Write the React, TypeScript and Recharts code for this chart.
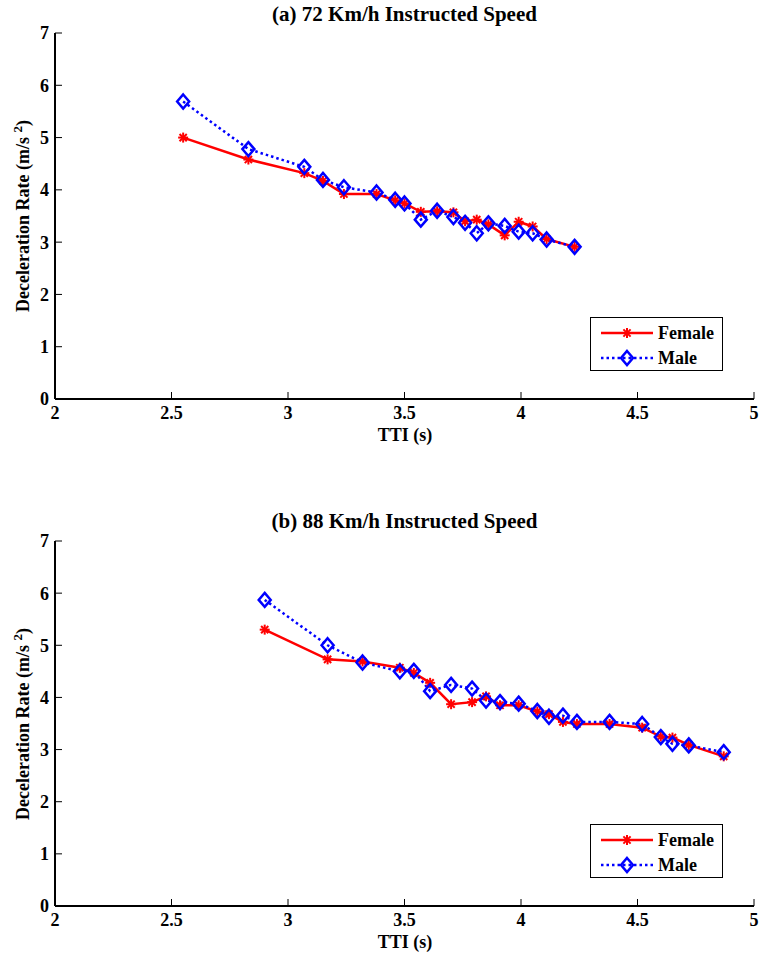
import React from "react";
import { LineChart, Line, XAxis, YAxis } from "recharts";

// (a) 72 Km/h
const ttiA = [2.55, 2.83, 3.07, 3.15, 3.24, 3.38, 3.46, 3.5, 3.57, 3.64, 3.71, 3.76, 3.81, 3.86, 3.93, 3.99, 4.05, 4.11, 4.23];
const femaleA = [5.0, 4.58, 4.32, 4.17, 3.92, 3.92, 3.8, 3.74, 3.58, 3.59, 3.57, 3.4, 3.43, 3.34, 3.13, 3.39, 3.3, 3.06, 2.91];
const maleA = [5.69, 4.78, 4.44, 4.19, 4.05, 3.95, 3.81, 3.74, 3.43, 3.6, 3.48, 3.37, 3.17, 3.36, 3.31, 3.2, 3.17, 3.05, 2.91];

// (b) 88 Km/h
const ttiB = [2.9, 3.17, 3.32, 3.48, 3.54, 3.61, 3.7, 3.79, 3.85, 3.91, 3.99, 4.07, 4.12, 4.18, 4.24, 4.38, 4.52, 4.6, 4.65, 4.72, 4.87];
const femaleB = [5.3, 4.73, 4.69, 4.57, 4.47, 4.28, 3.87, 3.91, 4.02, 3.85, 3.85, 3.73, 3.68, 3.53, 3.49, 3.49, 3.42, 3.25, 3.23, 3.09, 2.87];
const maleB = [5.87, 5.0, 4.67, 4.5, 4.51, 4.12, 4.24, 4.17, 3.94, 3.91, 3.88, 3.74, 3.63, 3.65, 3.53, 3.53, 3.49, 3.24, 3.11, 3.08, 2.95];

const xTicks = [2, 2.5, 3, 3.5, 4, 4.5, 5];
const yTicks = [0, 1, 2, 3, 4, 5, 6, 7];

const RED = "#ff0000";
const BLUE = "#0000ff";
const FONT = "'Liberation Serif', 'Times New Roman', serif";

function buildRows(tti: number[], female: number[], male: number[]) {
  return tti.map((t, i) => ({ tti: t, female: female[i], male: male[i] }));
}

function StarMark({ cx, cy }: { cx: number; cy: number }) {
  const r = 5;
  const d = 3.6;
  return (
    <g stroke={RED} strokeWidth={2}>
      <line x1={cx - r} y1={cy} x2={cx + r} y2={cy} />
      <line x1={cx} y1={cy - r} x2={cx} y2={cy + r} />
      <line x1={cx - d} y1={cy - d} x2={cx + d} y2={cy + d} />
      <line x1={cx - d} y1={cy + d} x2={cx + d} y2={cy - d} />
    </g>
  );
}

function DiamondMark({ cx, cy }: { cx: number; cy: number }) {
  return (
    <path
      d={`M${cx},${cy - 7} L${cx + 6},${cy} L${cx},${cy + 7} L${cx - 6},${cy} Z`}
      fill="none"
      stroke={BLUE}
      strokeWidth={2.5}
    />
  );
}

const starDot = (p: any) => {
  if (p.cx == null || p.cy == null) return <g key={`s${p.index}`} />;
  return <g key={`s${p.index}`}><StarMark cx={p.cx} cy={p.cy} /></g>;
};

const diamondDot = (p: any) => {
  if (p.cx == null || p.cy == null) return <g key={`d${p.index}`} />;
  return <g key={`d${p.index}`}><DiamondMark cx={p.cx} cy={p.cy} /></g>;
};

const tickStyle = { fill: "#000", fontFamily: FONT, fontWeight: "bold" as const, fontSize: 18 };

interface PanelProps {
  top: number;
  height: number;
  marginTop: number;
  xAxisHeight: number;
  title: string;
  titleY: number;
  xLabelY: number;
  legendTop: number;
  rows: { tti: number; female: number; male: number }[];
}

function Panel({ top, height, marginTop, xAxisHeight, title, titleY, xLabelY, legendTop, rows }: PanelProps) {
  const plotTop = top + marginTop;
  const plotBottom = top + height - xAxisHeight;
  const yMid = (plotTop + plotBottom) / 2;
  return (
    <>
      <div
        style={{
          position: "absolute",
          left: 55,
          width: 699,
          top: titleY,
          textAlign: "center",
          fontFamily: FONT,
          fontWeight: "bold",
          fontSize: 21,
          lineHeight: "22px",
          color: "#000",
        }}
      >
        {title}
      </div>
      <div style={{ position: "absolute", left: 0, top }}>
        <LineChart width={759} height={height} data={rows} margin={{ top: marginTop, right: 5, left: 0, bottom: 0 }}>
          <XAxis
            dataKey="tti"
            type="number"
            domain={[2, 5]}
            ticks={xTicks}
            interval={0}
            allowDataOverflow
            height={xAxisHeight}
            tickSize={-7}
            tickMargin={14}
            tick={tickStyle}
            axisLine={{ stroke: "#000", strokeWidth: 2 }}
            tickLine={{ stroke: "#000", strokeWidth: 1 }}
            tickFormatter={(v) => String(v)}
          />
          <XAxis
            xAxisId="top"
            orientation="top"
            dataKey="tti"
            type="number"
            domain={[2, 5]}
            ticks={xTicks}
            interval={0}
            height={0}
            tickSize={-7}
            tick={false}
            axisLine={{ stroke: "#000", strokeWidth: 1.5 }}
            tickLine={{ stroke: "#000", strokeWidth: 1 }}
          />
          <YAxis
            type="number"
            domain={[0, 7]}
            ticks={yTicks}
            interval={0}
            width={55}
            tickSize={-7}
            tickMargin={13}
            tick={tickStyle}
            axisLine={{ stroke: "#000", strokeWidth: 2 }}
            tickLine={{ stroke: "#000", strokeWidth: 1 }}
          />
          <YAxis
            yAxisId="right"
            orientation="right"
            type="number"
            domain={[0, 7]}
            ticks={yTicks}
            interval={0}
            width={0}
            tickSize={-7}
            tick={false}
            axisLine={{ stroke: "#000", strokeWidth: 1.5 }}
            tickLine={{ stroke: "#000", strokeWidth: 1 }}
          />
          <Line
            dataKey="female"
            name="Female"
            stroke={RED}
            strokeWidth={2.5}
            dot={starDot}
            activeDot={false}
            isAnimationActive={false}
          />
          <Line
            dataKey="male"
            name="Male"
            stroke={BLUE}
            strokeWidth={2.5}
            strokeDasharray="2.5 3"
            dot={diamondDot}
            activeDot={false}
            isAnimationActive={false}
          />
        </LineChart>
      </div>
      <div
        style={{
          position: "absolute",
          left: 365,
          width: 80,
          top: xLabelY,
          textAlign: "center",
          fontFamily: FONT,
          fontWeight: "bold",
          fontSize: 18,
          lineHeight: "20px",
          color: "#000",
          whiteSpace: "nowrap",
        }}
      >
        TTI (s)
      </div>
      <div
        style={{
          position: "absolute",
          left: 20,
          top: yMid,
          transform: "translate(-50%, -50%) rotate(-90deg)",
          fontFamily: FONT,
          fontWeight: "bold",
          fontSize: 18,
          lineHeight: "20px",
          color: "#000",
          whiteSpace: "nowrap",
        }}
      >
        Deceleration Rate (m/s <sup style={{ fontSize: 13 }}>2</sup>)
      </div>
      <div
        style={{
          position: "absolute",
          left: 590,
          top: legendTop,
          width: 131,
          height: 52,
          border: "1.5px solid #000",
          background: "#fff",
          fontFamily: FONT,
          fontWeight: "bold",
          fontSize: 18,
          color: "#000",
        }}
      >
        {[
          { name: "Female", y: 15, kind: "f" },
          { name: "Male", y: 40, kind: "m" },
        ].map((e) => (
          <React.Fragment key={e.name}>
            <svg style={{ position: "absolute", left: 8, top: e.y - 10 }} width={56} height={20}>
              <line
                x1={2}
                y1={10}
                x2={54}
                y2={10}
                stroke={e.kind === "f" ? RED : BLUE}
                strokeWidth={2.5}
                strokeDasharray={e.kind === "f" ? undefined : "2.5 3"}
              />
              {e.kind === "f" ? <StarMark cx={28} cy={10} /> : <DiamondMark cx={28} cy={10} />}
            </svg>
            <div style={{ position: "absolute", left: 67, top: e.y - 10, lineHeight: "20px" }}>{e.name}</div>
          </React.Fragment>
        ))}
      </div>
    </>
  );
}

export default function App() {
  return (
    <div style={{ position: "absolute", left: 0, top: 0, width: 759, height: 953, background: "#fff" }}>
      <Panel
        top={0}
        height={450}
        marginTop={33}
        xAxisHeight={51}
        title="(a) 72 Km/h Instructed Speed"
        titleY={3}
        xLabelY={425}
        legendTop={317}
        rows={buildRows(ttiA, femaleA, maleA)}
      />
      <Panel
        top={500}
        height={453}
        marginTop={41}
        xAxisHeight={47}
        title="(b) 88 Km/h Instructed Speed"
        titleY={510}
        xLabelY={932}
        legendTop={824}
        rows={buildRows(ttiB, femaleB, maleB)}
      />
    </div>
  );
}
